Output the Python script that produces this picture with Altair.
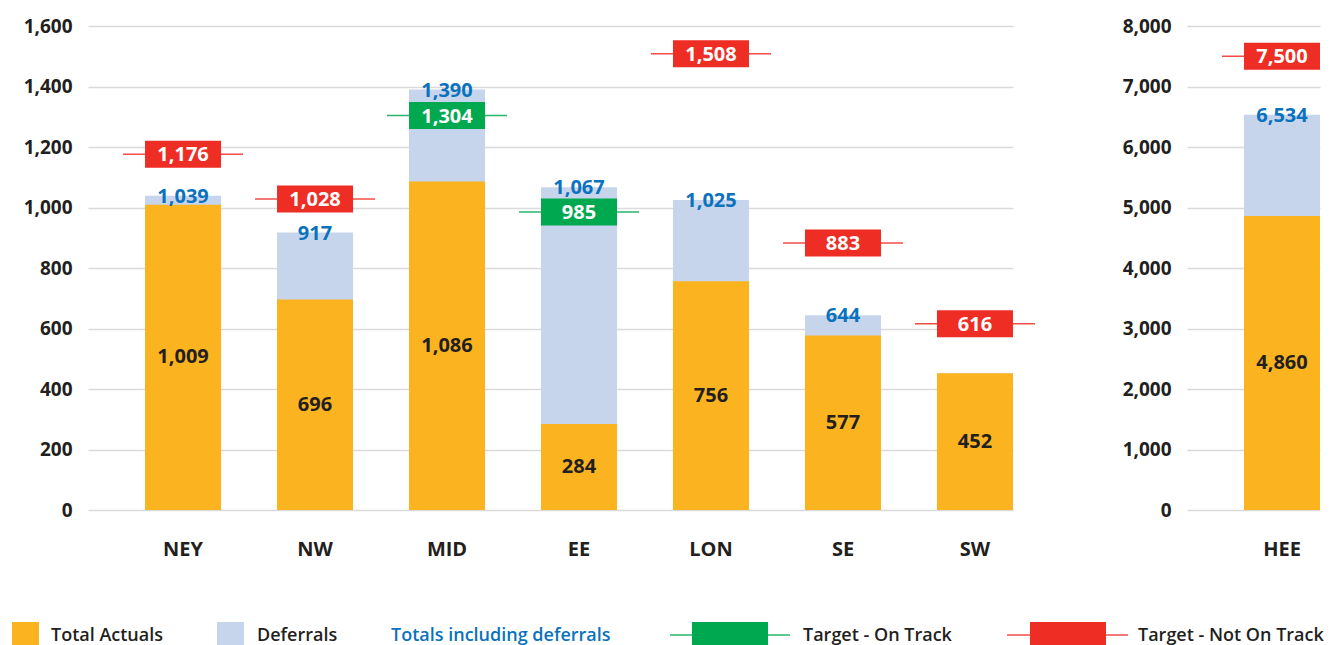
import altair as alt
import pandas as pd

# ---------------- data ----------------
regions = ["NEY", "NW", "MID", "EE", "LON", "SE", "SW"]
actuals = [1009, 696, 1086, 284, 756, 577, 452]
totals = [1039, 917, 1390, 1067, 1025, 644, 452]
show_total = [True, True, True, True, True, True, False]
targets = [1176, 1028, 1304, 985, 1508, 883, 616]

hee_regions = ["HEE"]
hee_actuals = [4860]
hee_totals = [6534]
hee_show_total = [True]
hee_targets = [7500]

left_ticks = [0, 200, 400, 600, 800, 1000, 1200, 1400, 1600]
right_ticks = [0, 1000, 2000, 3000, 4000, 5000, 6000, 7000, 8000]

legend_labels = ["Total Actuals", "Deferrals", "Totals including deferrals",
                 "Target - On Track", "Target - Not On Track"]
status_names = ["On Track", "Not On Track"]

# ---------------- style ----------------
FONT = "Open Sans"
ORANGE = "#fbb41f"
LIGHT = "#c6d5ec"
BLUE = "#0b72bd"
GREEN = "#00a84f"
RED = "#ee2e24"
DARK = "#231f20"
GRID = "#dadada"


def make_df(r, a, t, s, g):
    df = pd.DataFrame({"region": r, "actual": a, "total": t, "show_total": s, "target": g})
    df["status"] = [status_names[0] if tt >= gg else status_names[1] for tt, gg in zip(t, g)]
    return df


def panel(df, ymax, yticks, width, clip_line=False):
    base = alt.Chart(df)
    x = alt.X("region:N", sort=None, title=None,
              scale=alt.Scale(paddingInner=0.424, paddingOuter=0.216, align=1),
              axis=alt.Axis(labelFont=FONT, labelFontSize=20, labelFontWeight="bold",
                            labelColor=DARK, labelPadding=29, ticks=False, domain=False,
                            labelAngle=0, grid=False))
    yscale = alt.Scale(domain=[0, ymax], nice=False, zero=True)
    yaxis = alt.Axis(values=yticks, labelExpr="format(datum.value, ',')", labelFont=FONT,
                     labelFontSize=19, labelFontWeight="bold", labelColor=DARK, labelPadding=16,
                     ticks=False, domain=False, grid=True, gridColor=GRID, gridWidth=1.5)
    color = alt.Color("status:N", legend=None,
                      scale=alt.Scale(domain=status_names, range=[GREEN, RED]))

    def Y(field):
        return alt.Y(field, scale=yscale, axis=yaxis, title=None)

    total_bar = base.mark_bar(color=LIGHT, opacity=1).encode(x=x, y=Y("total:Q"))
    actual_bar = base.mark_bar(color=ORANGE, opacity=1).encode(x=x, y=Y("actual:Q"))
    actual_lbl = base.transform_calculate(mid="datum.actual / 2").mark_text(
        font=FONT, fontSize=20, fontWeight="bold", color=DARK, baseline="middle").encode(
        x=x, y=Y("mid:Q"), text=alt.Text("actual:Q", format=","))
    total_lbl = base.transform_filter("datum.show_total").mark_text(
        font=FONT, fontSize=20, fontWeight="bold", color=BLUE, baseline="middle", dy=1).encode(
        x=x, y=Y("total:Q"), text=alt.Text("total:Q", format=","))
    target_line = base.mark_tick(size=120, thickness=1.5, opacity=0.85, clip=clip_line).encode(
        x=x, y=Y("target:Q"), color=color)
    target_box = base.mark_tick(size=76, thickness=27, opacity=1).encode(
        x=x, y=Y("target:Q"), color=color)
    target_lbl = base.mark_text(font=FONT, fontSize=20, fontWeight="bold", color="white",
                                baseline="middle", dy=1).encode(
        x=x, y=Y("target:Q"), text=alt.Text("target:Q", format=","))
    return alt.layer(total_bar, actual_bar, actual_lbl, total_lbl,
                     target_line, target_box, target_lbl).properties(width=width, height=484)


left = panel(make_df(regions, actuals, totals, show_total, targets), 1600, left_ticks, 925)
right = panel(make_df(hee_regions, hee_actuals, hee_totals, hee_show_total, hee_targets),
              8000, right_ticks, 133, clip_line=True)

# ---------------- legend ----------------
def lg_data(i):
    return pd.DataFrame({"label": [legend_labels[i]]})


def lg_rect(i, x1, x2, col):
    return alt.Chart(lg_data(i)).mark_rect(color=col, opacity=1).encode(
        x=alt.value(x1), x2=alt.value(x2), y=alt.value(0), y2=alt.value(23))


def lg_line(i, x1, x2, col):
    return alt.Chart(lg_data(i)).mark_rule(color=col, strokeWidth=1.5, opacity=0.85).encode(
        x=alt.value(x1), x2=alt.value(x2), y=alt.value(13))


def lg_text(i, x1, col):
    return alt.Chart(lg_data(i)).mark_text(
        font=FONT, fontSize=18, fontWeight=600, color=col, align="left", baseline="middle").encode(
        x=alt.value(x1), y=alt.value(14), text="label:N")


legend = alt.layer(
    lg_rect(0, -76, -49, ORANGE), lg_text(0, -37, DARK),
    lg_rect(1, 129, 156, LIGHT), lg_text(1, 169, DARK),
    lg_text(2, 303, BLUE),
    lg_line(3, 582, 702, GREEN), lg_rect(3, 604, 680, GREEN), lg_text(3, 715, DARK),
    lg_line(4, 919, 1040, RED), lg_rect(4, 942, 1018, RED), lg_text(4, 1050, DARK),
).properties(width=1, height=23)

chart = alt.concat(left, right, legend, columns=2, spacing={"row": 112, "column": 174},
                   bounds="flush", align="each").properties(
    padding={"left": 4, "top": 9, "right": 0, "bottom": 0}, background="white"
).configure_view(strokeWidth=0)

chart.save("out.html", embed_options={"renderer": "svg", "actions": False})
